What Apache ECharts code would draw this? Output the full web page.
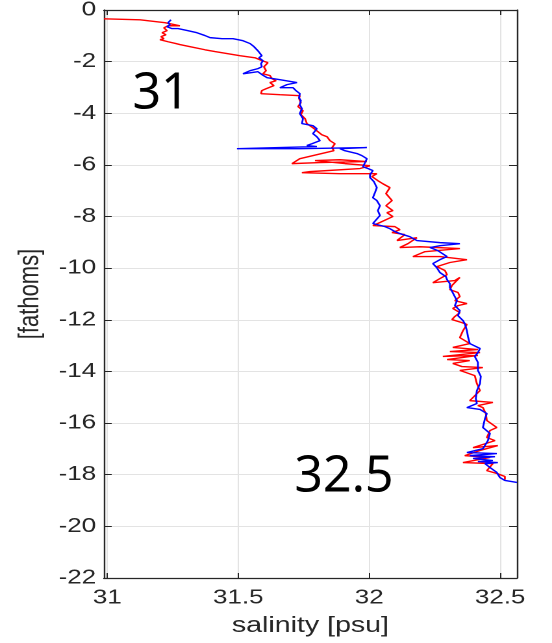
<!DOCTYPE html>
<html><head><meta charset="utf-8">
<script src="https://cdn.jsdelivr.net/npm/echarts@6/dist/echarts.min.js"></script>
<style>
html,body{margin:0;padding:0;background:#fff;overflow:hidden}
#wrap{width:552px;height:643px;overflow:hidden;position:relative}
#c{width:425px;height:643px;transform:scaleX(1.29882);transform-origin:0 0}
</style></head><body><div id="wrap"><div id="c"></div></div>
<script>
// ---- data (salinity [psu], depth [fathoms]) ----
const salinityTicks = [31, 31.5, 32, 32.5];
const salinityRange = [30.987, 32.564];
const depthRange = [-22, 0];
const depthStep = 2;
const xName = 'salinity [psu]';
const yName = '[fathoms]';
const annotationTexts = ['31', '32.5'];

const redProfile = [
[30.987,-0.34],[31.125,-0.38],[31.220,-0.49],[31.239,-0.53],[31.277,-0.61],[31.232,-0.61],[31.216,-0.69],
[31.228,-0.80],[31.209,-0.88],[31.224,-0.96],[31.205,-1.03],[31.216,-1.11],[31.201,-1.15],[31.232,-1.23],
[31.262,-1.30],[31.277,-1.34],[31.285,-1.30],[31.316,-1.42],[31.373,-1.54],[31.411,-1.61],[31.506,-1.77],
[31.564,-1.85],[31.590,-1.96],[31.613,-2.04],[31.598,-2.20],[31.606,-2.35],[31.594,-2.47],[31.621,-2.54],
[31.629,-2.66],[31.644,-2.74],[31.621,-2.81],[31.636,-2.93],[31.606,-3.05],[31.590,-3.12],[31.587,-3.24],
[31.659,-3.28],[31.735,-3.32],[31.732,-3.43],[31.739,-3.59],[31.728,-3.74],[31.747,-3.90],[31.739,-4.05],
[31.755,-4.21],[31.762,-4.40],[31.785,-4.56],[31.804,-4.71],[31.819,-4.83],[31.839,-4.91],[31.850,-5.06],
[31.869,-5.18],[31.858,-5.33],[31.865,-5.45],[31.735,-5.76],[31.705,-5.95],[31.812,-5.91],[31.991,-5.87],
[31.888,-5.80],[31.793,-5.83],[31.907,-5.95],[32.003,-6.03],[31.965,-6.14],[31.774,-6.26],[31.743,-6.30],
[31.888,-6.34],[32.029,-6.34],[32.010,-6.45],[32.033,-6.61],[32.052,-6.73],[32.079,-6.88],[32.064,-7.11],
[32.087,-7.38],[32.064,-7.58],[32.090,-7.77],[32.068,-7.85],[32.090,-8.00],[32.041,-8.23],[32.014,-8.35],
[32.098,-8.39],[32.117,-8.51],[32.087,-8.62],[32.136,-8.70],[32.106,-8.93],[32.182,-8.82],[32.148,-9.05],
[32.117,-9.20],[32.194,-9.17],[32.346,-9.24],[32.213,-9.36],[32.167,-9.55],[32.270,-9.55],[32.373,-9.67],
[32.308,-9.78],[32.258,-9.94],[32.289,-10.09],[32.297,-10.25],[32.270,-10.40],[32.243,-10.56],[32.327,-10.48],
[32.346,-10.36],[32.316,-10.67],[32.308,-10.83],[32.339,-10.94],[32.346,-11.10],[32.327,-11.26],[32.373,-11.37],
[32.339,-11.45],[32.319,-11.56],[32.346,-11.72],[32.327,-11.87],[32.316,-11.99],[32.354,-12.11],[32.373,-12.18],
[32.358,-12.42],[32.346,-12.69],[32.384,-12.92],[32.319,-13.07],[32.415,-13.15],[32.308,-13.23],[32.423,-13.27],
[32.281,-13.42],[32.415,-13.38],[32.297,-13.54],[32.384,-13.58],[32.319,-13.69],[32.354,-13.81],[32.434,-13.85],
[32.346,-13.96],[32.403,-14.16],[32.411,-14.47],
[32.423,-14.74],[32.384,-15.13],[32.472,-15.20],[32.415,-15.32],[32.434,-15.40],[32.445,-15.63],[32.449,-15.90],
[32.487,-16.17],[32.461,-16.29],[32.449,-16.56],[32.480,-16.68],[32.396,-16.95],[32.491,-16.87],[32.423,-17.06],
[32.365,-17.26],[32.461,-17.33],[32.358,-17.53],[32.472,-17.57],[32.449,-17.84],[32.487,-17.95],[32.518,-18.07],[32.518,-18.19]
];

const blueProfile = [
[31.243,-0.38],[31.232,-0.49],[31.239,-0.57],[31.228,-0.65],[31.247,-0.72],[31.270,-0.72],[31.308,-0.80],
[31.342,-0.88],[31.373,-0.99],[31.392,-1.07],[31.438,-1.11],[31.480,-1.11],[31.518,-1.19],[31.545,-1.30],
[31.560,-1.42],[31.575,-1.58],[31.583,-1.65],[31.590,-1.77],[31.579,-1.85],[31.594,-1.96],[31.587,-2.08],
[31.590,-2.20],[31.575,-2.27],[31.545,-2.35],[31.518,-2.47],[31.575,-2.39],[31.590,-2.50],[31.610,-2.62],
[31.659,-2.70],[31.724,-2.81],[31.686,-2.89],[31.659,-3.01],[31.709,-3.01],[31.720,-3.12],[31.735,-3.24],
[31.732,-3.40],[31.739,-3.51],[31.735,-3.67],[31.743,-3.82],[31.735,-4.01],[31.747,-4.21],[31.743,-4.40],
[31.785,-4.48],[31.800,-4.60],[31.785,-4.79],[31.800,-4.91],[31.812,-5.06],[31.781,-5.18],[31.762,-5.25],
[31.800,-5.29],[31.495,-5.37],[31.735,-5.37],[31.991,-5.33],[31.888,-5.37],[31.907,-5.45],[31.953,-5.56],
[31.972,-5.64],[31.991,-5.76],[31.984,-5.91],[31.976,-6.07],[31.995,-6.14],[32.014,-6.22],[32.003,-6.38],
[32.003,-6.49],[32.018,-6.65],[32.029,-6.88],[32.022,-7.07],[32.014,-7.27],[32.029,-7.38],[32.041,-7.58],
[32.033,-7.77],[32.041,-7.96],[32.014,-8.27],[32.060,-8.39],[32.079,-8.47],[32.098,-8.58],[32.117,-8.66],
[32.155,-8.78],[32.182,-8.93],[32.270,-9.01],[32.346,-9.05],[32.270,-9.13],[32.232,-9.20],[32.262,-9.32],
[32.297,-9.55],[32.270,-9.67],[32.243,-9.82],[32.258,-9.98],[32.270,-10.17],[32.293,-10.33],[32.297,-10.44],
[32.308,-10.60],[32.308,-10.75],[32.319,-10.95],[32.335,-11.26],[32.327,-11.45],[32.346,-11.64],[32.339,-11.84],
[32.358,-12.03],[32.365,-12.15],[32.373,-12.42],[32.377,-12.65],[32.384,-12.92],[32.423,-13.11],[32.415,-13.27],
[32.403,-13.42],[32.415,-13.65],[32.415,-13.96],[32.426,-14.19],[32.423,-14.47],[32.411,-14.74],[32.407,-15.05],
[32.411,-15.24],[32.373,-15.40],[32.423,-15.47],[32.449,-15.63],[32.442,-15.82],[32.434,-16.17],[32.461,-16.40],
[32.453,-16.68],[32.434,-16.99],[32.373,-17.14],[32.487,-17.18],[32.384,-17.26],[32.480,-17.30],[32.396,-17.37],
[32.472,-17.45],[32.415,-17.49],[32.491,-17.53],[32.442,-17.57],
[32.461,-17.72],[32.487,-17.91],[32.499,-18.11],[32.518,-18.22],[32.564,-18.30]
];

// ---- chart ----
const SX = 1.29882;
const axisColor = '#262626';
const gridColor = '#e3e3e3';
const font = '"Liberation Sans", Arial, sans-serif';

const chart = echarts.init(document.getElementById('c'), null, {devicePixelRatio: 2});

const xAxisCommon = {
  type: 'value', min: salinityRange[0], max: salinityRange[1],
  axisLine: {show: true, onZero: false, lineStyle: {color: axisColor, width: 1.2}},
  axisTick: {show: true, inside: true, length: 5, customValues: salinityTicks, lineStyle: {color: axisColor, width: 1}},
};
const yAxisCommon = {
  type: 'value', min: depthRange[0], max: depthRange[1], interval: depthStep,
  axisLine: {show: true, onZero: false, lineStyle: {color: axisColor, width: 1.2}},
  axisTick: {show: true, inside: true, length: 6, lineStyle: {color: axisColor, width: 1}},
};

chart.setOption({
  animation: false,
  backgroundColor: '#fff',
  grid: {left: 80, right: 27, top: 10, bottom: 65, containLabel: false},
  xAxis: [
    Object.assign({}, xAxisCommon, {
      position: 'bottom',
      name: xName, nameLocation: 'middle', nameGap: 37,
      nameTextStyle: {color: axisColor, fontFamily: font, fontSize: 22},
      axisLabel: {show: true, customValues: salinityTicks, margin: 10, color: axisColor, fontFamily: font, fontSize: 20,
        formatter: v => String(v)},
      splitLine: {show: true, lineStyle: {color: gridColor, width: 1}}
    }),
    Object.assign({}, xAxisCommon, {
      position: 'top', axisLabel: {show: false}, splitLine: {show: false}
    })
  ],
  yAxis: [
    Object.assign({}, yAxisCommon, {
      position: 'left',
      name: yName, nameLocation: 'middle', nameGap: 41, nameRotate: 90,
      nameTextStyle: {color: axisColor, fontFamily: font, fontSize: 22},
      axisLabel: {show: true, margin: 6, color: axisColor, fontFamily: font, fontSize: 20},
      splitLine: {show: true, lineStyle: {color: gridColor, width: 1}}
    }),
    Object.assign({}, yAxisCommon, {
      position: 'right', axisLabel: {show: false}, splitLine: {show: false}
    })
  ],
  series: [
    {type: 'line', name: 'red', data: redProfile, xAxisIndex: 0, yAxisIndex: 0,
     showSymbol: false, symbol: 'none', lineStyle: {color: '#ff0000', width: 1.4}, z: 3},
    {type: 'line', name: 'blue', data: blueProfile, xAxisIndex: 0, yAxisIndex: 0,
     showSymbol: false, symbol: 'none', lineStyle: {color: '#0000ff', width: 1.4}, z: 4}
  ],
  graphic: [
    {type: 'text', x: 161 / SX, y: 94, scaleX: 1 / SX, z: 10,
     style: {text: annotationTexts[0], fill: '#000', font: '50px "Noto Sans", sans-serif', textAlign: 'center', textVerticalAlign: 'middle'}},
    {type: 'text', x: 344 / SX, y: 477, scaleX: 1 / SX, z: 10,
     style: {text: annotationTexts[1], fill: '#000', font: '50px "Noto Sans", sans-serif', textAlign: 'center', textVerticalAlign: 'middle'}}
  ]
});
</script></body></html>
